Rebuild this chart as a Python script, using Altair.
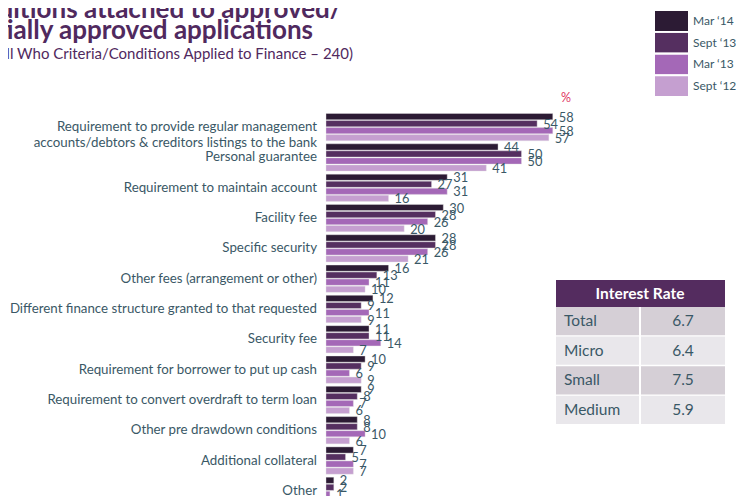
import altair as alt
import pandas as pd

categories = [
    "Requirement to provide regular management\naccounts/debtors & creditors listings to the bank",
    "Personal guarantee",
    "Requirement to maintain account",
    "Facility fee",
    "Specific security",
    "Other fees (arrangement or other)",
    "Different finance structure granted to that requested",
    "Security fee",
    "Requirement for borrower to put up cash",
    "Requirement to convert overdraft to term loan",
    "Other pre drawdown conditions",
    "Additional collateral",
    "Other",
]
series = ["Mar \u201814", "Sept \u201813", "Mar \u201813", "Sept \u201812"]
mar14 = [58, 44, 31, 30, 28, 16, 12, 11, 10, 9, 8, 7, 2]
sep13 = [54, 50, 27, 28, 28, 13, 9, 11, 9, 8, 8, 5, 2]
mar13 = [58, 50, 31, 26, 26, 11, 11, 14, 6, 7, 10, 7, 1]
sep12 = [57, 41, 16, 20, 21, 10, 9, 7, 9, 6, 6, 7, 1]

rate_labels = ["Total", "Micro", "Small", "Medium"]
rate_values = [6.7, 6.4, 7.5, 5.9]
table_title = "Interest Rate"

title_lines = ["Conditions attached to approved/", "partially approved applications"]
subtitle = "(Base: All Who Criteria/Conditions Applied to Finance \u2013 240)"
unit_label = "%"

colors = ["#2c1b34", "#552f60", "#a468b7", "#c59fd0"]
txt = "#3a5866"
purple = "#50295e"
FONT = "Lato"

rows = []
for s, vals in zip(series, [mar14, sep13, mar13, sep12]):
    for c, v in zip(categories, vals):
        rows.append({"cat": c, "series": s, "value": v})
df = pd.DataFrame(rows)

cat_df = pd.DataFrame({"cat": categories})
rate_df = pd.DataFrame({"label": rate_labels, "value": rate_values})

xs = alt.Scale(domain=[0, 100], range=[318, 709])
ys = alt.Scale(domain=categories, range=[104, 498], paddingInner=0.1, paddingOuter=0.05)
yo = alt.Scale(domain=series, paddingInner=0.12)

bars = alt.Chart(df).mark_bar(stroke="#e6e6e6", strokeWidth=0.4).encode(
    x=alt.X("value:Q", scale=xs, axis=None),
    y=alt.Y("cat:N", scale=ys, axis=None),
    yOffset=alt.YOffset("series:N", scale=yo),
    color=alt.Color(
        "series:N",
        scale=alt.Scale(domain=series, range=colors),
        legend=alt.Legend(
            orient="none", legendX=647, legendY=3, title=None,
            symbolType="M-1,-0.6H1V0.6H-1Z", symbolSize=1089,
            symbolStrokeWidth=0, symbolOpacity=1, clipHeight=20, rowPadding=1.7,
            labelFont=FONT, labelFontSize=12, labelColor=txt, labelOffset=5,
            padding=0,
        ),
    ),
)

vlabels = alt.Chart(df).mark_text(
    align="left", baseline="middle", dx=6, dy=1, font=FONT, fontSize=12.8, color=txt
).encode(
    x=alt.X("value:Q", scale=xs, axis=None),
    y=alt.Y("cat:N", scale=ys, axis=None),
    yOffset=alt.YOffset("series:N", scale=yo),
    text="value:Q",
)

clabels = alt.Chart(cat_df).mark_text(
    align="right", baseline="middle", lineBreak="\n", lineHeight=16,
    font=FONT, fontSize=13.3, color=txt,
).encode(
    x=alt.value(309),
    y=alt.Y("cat:N", scale=ys, axis=None),
    text="cat:N",
)

pct = alt.Chart(alt.Data(values=[{"t": unit_label}])).mark_text(
    align="center", baseline="middle", font=FONT, fontSize=12.5, color="#e0385f"
).encode(x=alt.value(558), y=alt.value(90), text="t:N")

main = alt.layer(bars, vlabels, clabels, pct)

# table
ry = alt.Scale(domain=rate_labels, range=[299, 416], paddingInner=0.05, paddingOuter=0)
shade = alt.Fill("label:N", scale=alt.Scale(domain=rate_labels,
                 range=["#d5cfd6", "#e9e7eb", "#d5cfd6", "#e9e7eb"]), legend=None)

hdr = alt.Chart(alt.Data(values=[{"t": table_title}]))
hdr_rect = hdr.mark_rect(color="#542c5f").encode(
    x=alt.value(548), x2=alt.value(717), y=alt.value(272), y2=alt.value(299))
hdr_text = hdr.mark_text(font=FONT, fontSize=15.5, fontWeight="bold", color="white",
                         align="center", baseline="middle").encode(
    x=alt.value(632), y=alt.value(286), text="t:N")

cell_l = alt.Chart(rate_df).mark_rect().encode(
    x=alt.value(548), x2=alt.value(631),
    y=alt.Y("label:N", scale=ry, axis=None), fill=shade)
cell_r = alt.Chart(rate_df).mark_rect().encode(
    x=alt.value(633), x2=alt.value(717),
    y=alt.Y("label:N", scale=ry, axis=None), fill=shade)
lab_t = alt.Chart(rate_df).mark_text(font=FONT, fontSize=15.5, color=txt,
                                     align="left", baseline="middle").encode(
    x=alt.value(556), y=alt.Y("label:N", scale=ry, axis=None), text="label:N")
val_t = alt.Chart(rate_df).mark_text(font=FONT, fontSize=15.5, color=txt,
                                     align="center", baseline="middle").encode(
    x=alt.value(675), y=alt.Y("label:N", scale=ry, axis=None),
    text=alt.Text("value:Q", format=".1f"))

table = alt.layer(hdr_rect, hdr_text, cell_l, cell_r, lab_t, val_t)

# title
t1 = alt.Chart(pd.DataFrame({"t": [title_lines[0]]})).mark_text(
    font=FONT, fontSize=26, fontWeight="bold", color=purple, align="right",
    baseline="alphabetic").encode(x=alt.value(334), y=alt.value(10), text="t:N")
t2 = alt.Chart(pd.DataFrame({"t": [title_lines[1]]})).mark_text(
    font=FONT, fontSize=26, fontWeight="bold", color=purple, align="right",
    baseline="alphabetic").encode(x=alt.value(305), y=alt.value(31), text="t:N")
t3 = alt.Chart(pd.DataFrame({"t": [subtitle]})).mark_text(
    font=FONT, fontSize=15, color=purple, align="right",
    baseline="alphabetic").encode(x=alt.value(345), y=alt.value(51), text="t:N")
titles = alt.layer(t1, t2, t3)

chart = alt.layer(main, table, titles).resolve_scale(
    y="independent", fill="independent"
).properties(
    width=729, height=488, autosize=alt.AutoSizeParams(type="none"),
    padding=0, background="white",
).configure_view(stroke=None)

chart.save("out.html", embed_options={"renderer": "svg", "actions": False})
